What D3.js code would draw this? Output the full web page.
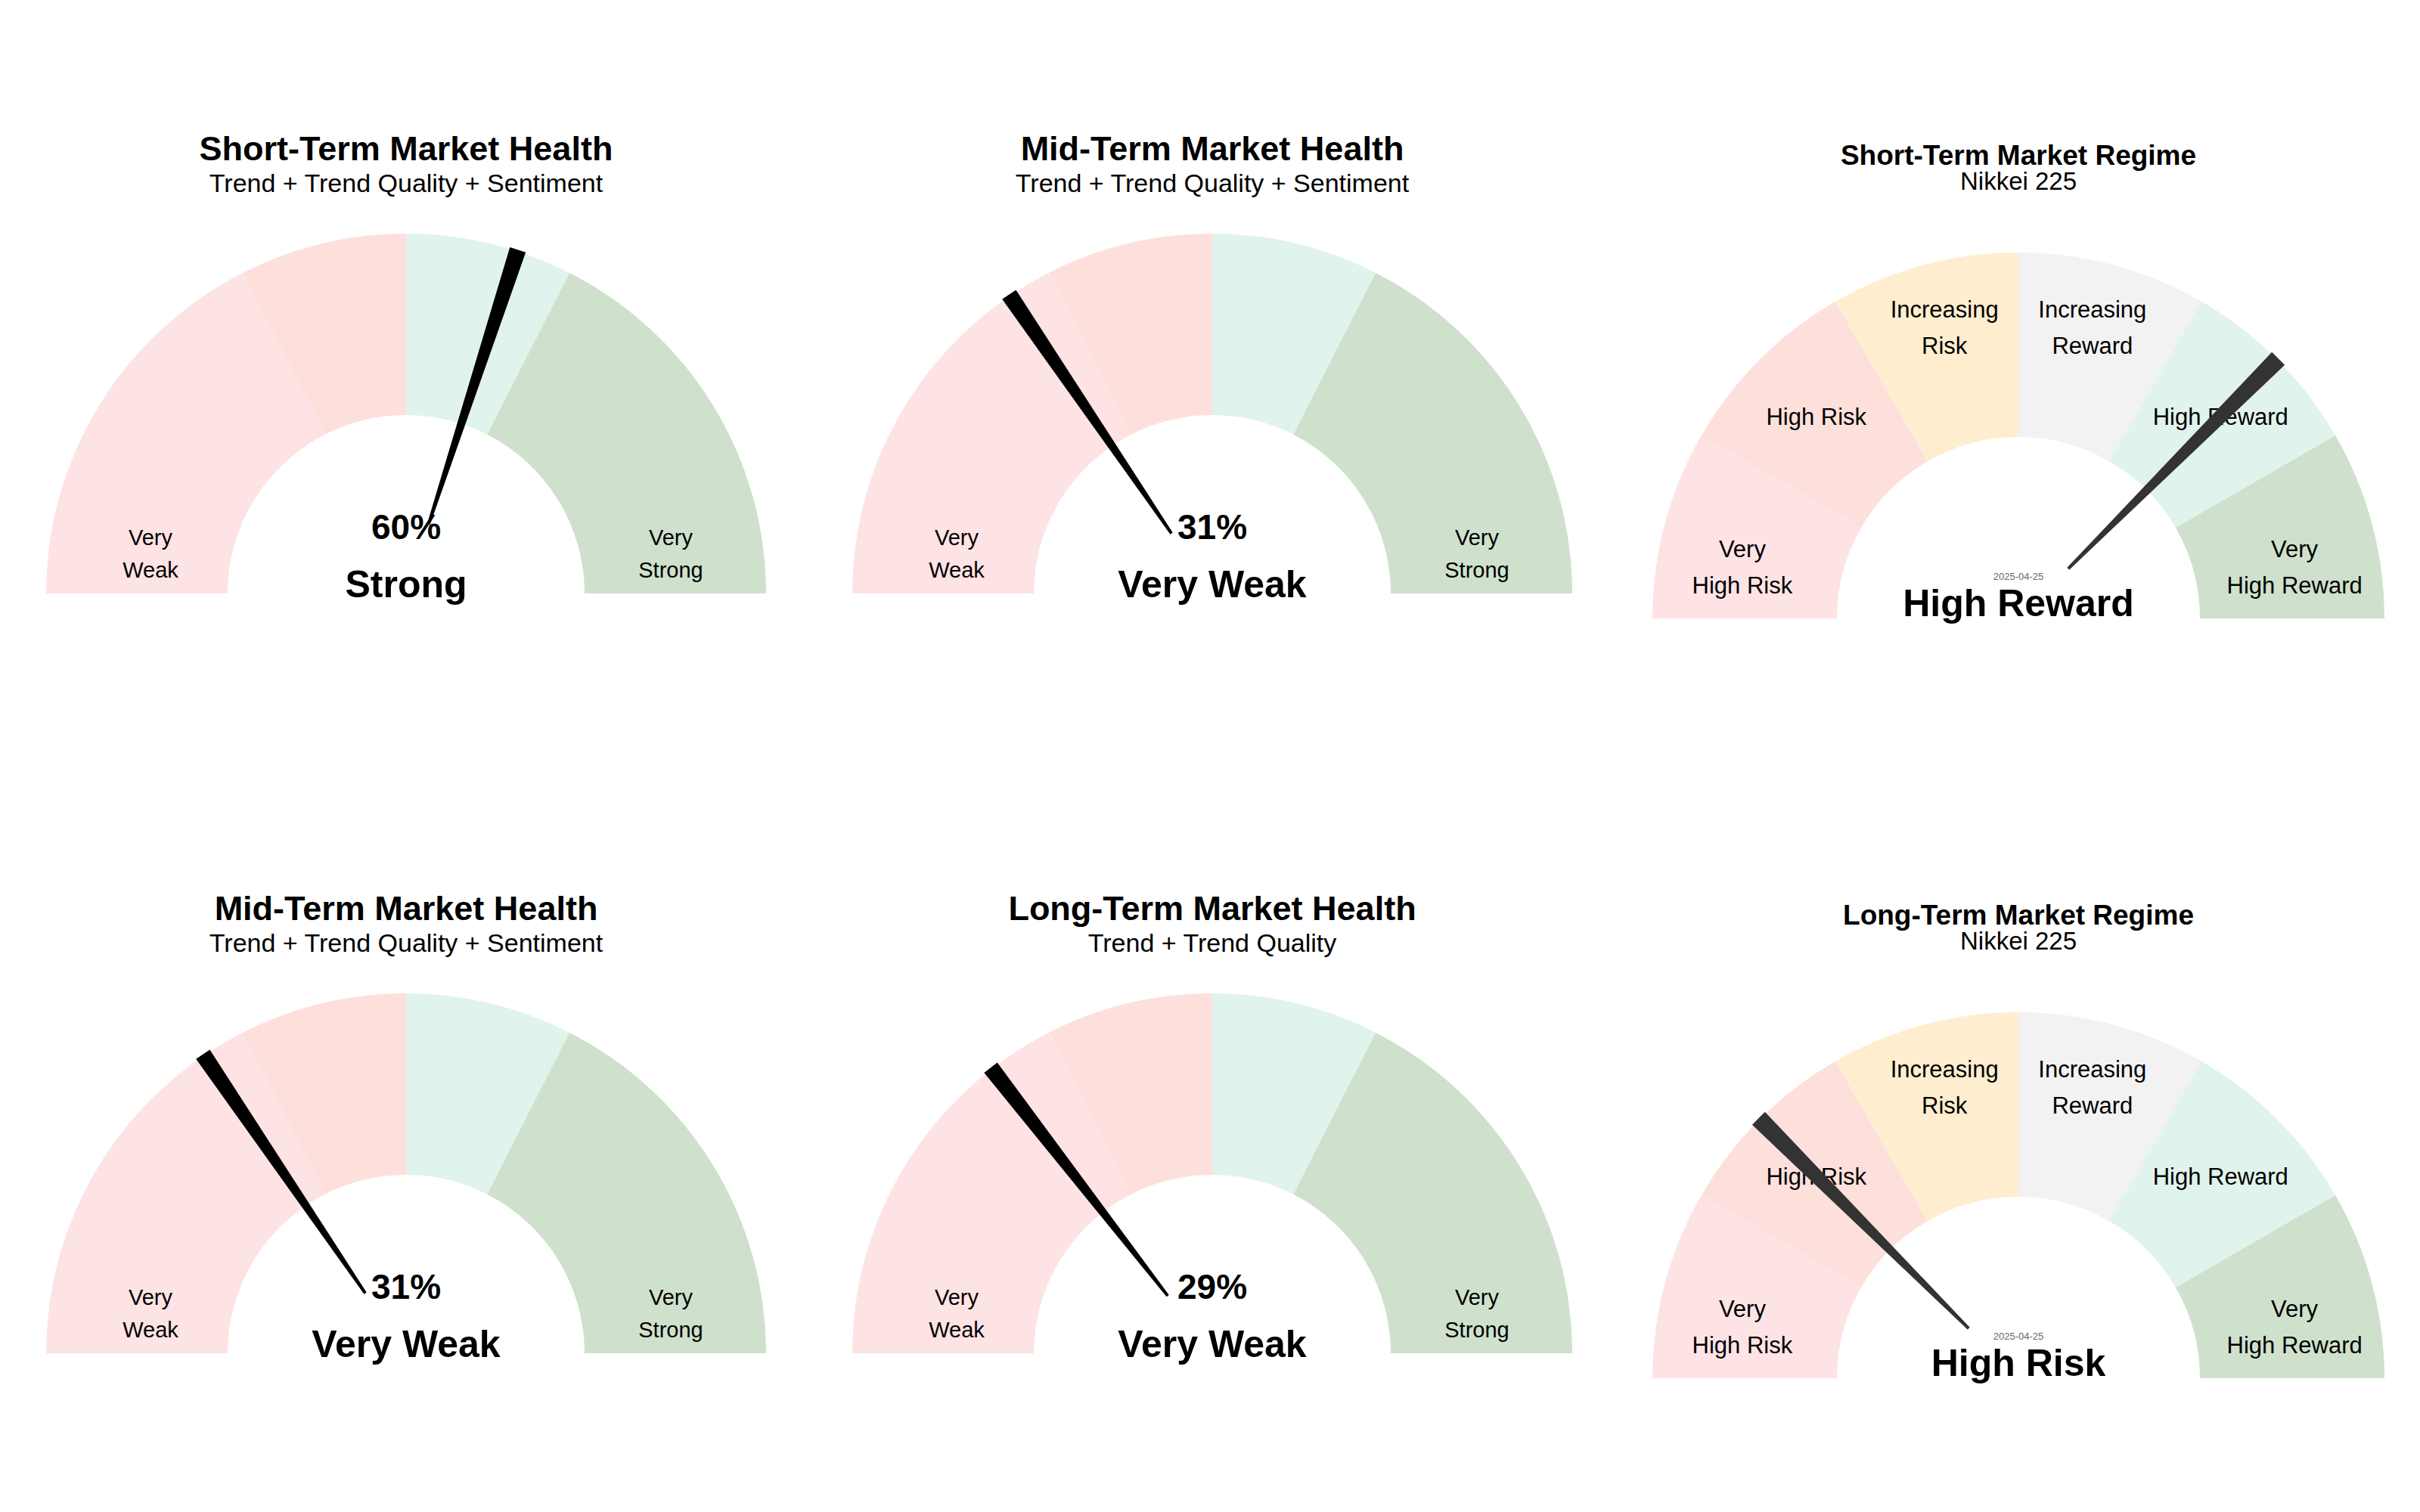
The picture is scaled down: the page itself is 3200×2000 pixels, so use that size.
<!DOCTYPE html>
<html><head><meta charset="utf-8">
<script src="https://cdn.jsdelivr.net/npm/d3@7"></script>
<style>body{margin:0;background:#fff}svg{display:block;font-family:"Liberation Sans",Arial,sans-serif}</style>
</head><body>
<script>
// Health gauges
const healthTitles = ["Short-Term Market Health","Mid-Term Market Health","Mid-Term Market Health","Long-Term Market Health"];
const healthSubtitles = ["Trend + Trend Quality + Sentiment","Trend + Trend Quality + Sentiment","Trend + Trend Quality + Sentiment","Trend + Trend Quality"];
const healthValues = [60, 31, 31, 29];
const healthLabels = ["Strong","Very Weak","Very Weak","Very Weak"];
const healthZoneBreaks = [0, 35, 50, 65, 100];
const healthZoneColors = ["#fde3e4","#fde0dc","#e0f3ec","#cfe1cd"];
// Regime gauges
const regimeTitles = ["Short-Term Market Regime","Long-Term Market Regime"];
const regimeSubtitles = ["Nikkei 225","Nikkei 225"];
const regimeValues = [75, 25];
const regimeLabels = ["High Reward","High Risk"];
const regimeDate = "2025-04-25";
const regimeZones = [["Very","High Risk"],["High Risk"],["Increasing","Risk"],["Increasing","Reward"],["High Reward"],["Very","High Reward"]];
const regimeZoneColors = ["#fde3e4","#fde0dc","#feedcf","#f2f2f2","#e0f3ec","#cfe1cd"];

const W=3200,H=2000;
const svg=d3.select("body").append("svg").attr("width",W).attr("height",H);
const ang=d3.scaleLinear().domain([0,100]).range([-Math.PI/2,Math.PI/2]);

function needle(g,v,r0,r1,w,color){
  const a=ang(v); const s=Math.sin(a), c=-Math.cos(a);
  const px=-c, py=s;
  const pts=[[s*r0+px*2,c*r0+py*2],[s*r0-px*2,c*r0-py*2],[s*r1-px*w/2,c*r1-py*w/2],[s*r1+px*w/2,c*r1+py*w/2]];
  g.append("path").attr("d",d3.line()(pts)).attr("fill",color);
}

const healthPos=[[537,785],[1603,785],[537,1790],[1603,1790]];
healthValues.forEach((v,i)=>{
  const [cx,cy]=healthPos[i];
  const g=svg.append("g").attr("transform",`translate(${cx},${cy})`);
  const R=476,r=236;
  const arc=d3.arc().innerRadius(r).outerRadius(R);
  healthZoneColors.forEach((col,k)=>{
    g.append("path").attr("d",arc({startAngle:ang(healthZoneBreaks[k]),endAngle:ang(healthZoneBreaks[k+1])})).attr("fill",col);
  });
  [["Very","Weak",-338],["Very","Strong",350]].forEach(([a,b,x])=>{
    g.append("text").attr("x",x).attr("y",-64).attr("text-anchor","middle").attr("font-size",29).text(a);
    g.append("text").attr("x",x).attr("y",-21).attr("text-anchor","middle").attr("font-size",29).text(b);
  });
  needle(g,v,96,478,22,"#000");
  g.append("text").attr("x",0).attr("y",-573).attr("text-anchor","middle").attr("font-size",45).attr("font-weight","bold").text(healthTitles[i]);
  g.append("text").attr("x",0).attr("y",-531).attr("text-anchor","middle").attr("font-size",34).text(healthSubtitles[i]);
  g.append("text").attr("x",0).attr("y",-72).attr("text-anchor","middle").attr("font-size",46).attr("font-weight","bold").text(v+"%");
  g.append("text").attr("x",0).attr("y",5).attr("text-anchor","middle").attr("font-size",50).attr("font-weight","bold").text(healthLabels[i]);
});

const regimePos=[[2669,818],[2669,1823]];
const zScale=d3.scaleLinear().domain([0,regimeZones.length]).range([0,100]);
regimeValues.forEach((v,i)=>{
  const [cx,cy]=regimePos[i];
  const g=svg.append("g").attr("transform",`translate(${cx},${cy})`);
  const R=484,r=240;
  const arc=d3.arc().innerRadius(r).outerRadius(R);
  regimeZones.forEach((lab,k)=>{
    g.append("path").attr("d",arc({startAngle:ang(zScale(k)),endAngle:ang(zScale(k+1))})).attr("fill",regimeZoneColors[k]);
  });
  regimeZones.forEach((lab,k)=>{
    const am=(ang(zScale(k))+ang(zScale(k+1)))/2;
    const rr=378;
    const x=Math.sin(am)*rr, y=-Math.cos(am)*rr;
    const yshift=lab.length===2?(Math.abs(am)>1?30:-20):0;
    lab.forEach((t,j)=>{
      g.append("text").attr("x",x).attr("y",y+yshift+(j-(lab.length-1)/2)*48+11).attr("text-anchor","middle").attr("font-size",31).text(t);
    });
  });
  needle(g,v,93,486,24,"#333");
  g.append("text").attr("x",0).attr("y",-600).attr("text-anchor","middle").attr("font-size",37).attr("font-weight","bold").text(regimeTitles[i]);
  g.append("text").attr("x",0).attr("y",-567).attr("text-anchor","middle").attr("font-size",33).text(regimeSubtitles[i]);
  g.append("text").attr("x",0).attr("y",-51).attr("text-anchor","middle").attr("font-size",13).attr("fill","#666").text(regimeDate);
  g.append("text").attr("x",0).attr("y",-3).attr("text-anchor","middle").attr("font-size",50).attr("font-weight","bold").text(regimeLabels[i]);
});
</script>
</body></html>
